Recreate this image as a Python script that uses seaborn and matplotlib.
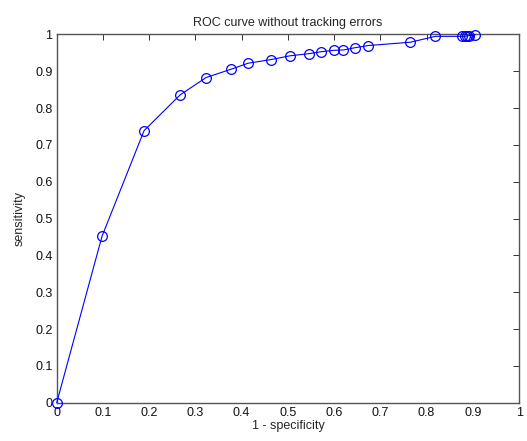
import matplotlib
matplotlib.use("Agg")
import matplotlib.pyplot as plt
import seaborn as sns
import pandas as pd
import numpy as np

sns.set_style("white")
plt.rcParams["font.family"] = ["Liberation Sans", "DejaVu Sans"]

# ROC points
fpr = [0.0, 0.098, 0.189, 0.267, 0.323, 0.378, 0.414, 0.464, 0.504,
       0.546, 0.571, 0.599, 0.620, 0.645, 0.674, 0.765, 0.819,
       0.877, 0.882, 0.887, 0.892, 0.905]
tpr = [0.0, 0.452, 0.739, 0.836, 0.883, 0.906, 0.922, 0.932, 0.942,
       0.948, 0.953, 0.957, 0.958, 0.964, 0.970, 0.979, 0.995,
       0.995, 0.995, 0.996, 0.997, 0.999]
ticks = np.round(np.arange(0, 1.01, 0.1), 1)
tick_labels = ["0", "0.1", "0.2", "0.3", "0.4", "0.5", "0.6", "0.7", "0.8", "0.9", "1"]

df = pd.DataFrame({"fpr": fpr, "tpr": tpr})

fig = plt.figure(figsize=(5.27, 4.41), dpi=100)
ax = fig.add_axes([0.1076, 0.0868, 0.8774, 0.835])
sns.lineplot(data=df, x="fpr", y="tpr", sort=False, estimator=None, ax=ax,
             color="#0000ff", linewidth=0.8, marker="o", markersize=7,
             markerfacecolor="none", markeredgecolor="#0000ff", markeredgewidth=0.9,
             clip_on=False, zorder=5)

ax.set_xlim(0, 1)
ax.set_ylim(0, 1)
ax.set_xticks(ticks)
ax.set_xticklabels(tick_labels)
ax.set_yticks(ticks)
ax.set_yticklabels(tick_labels)
ax.tick_params(direction="in", length=4, width=0.7, top=True, right=True,
               labelsize=9, colors="#333333", labelcolor="#111111", pad=3)
for spine in ax.spines.values():
    spine.set_color("#555555")
    spine.set_linewidth(1.0)
ax.set_xlabel("1 - specificity", fontsize=9, labelpad=1)
ax.set_ylabel("sensitivity", fontsize=9, labelpad=7)
ax.set_title("ROC curve without tracking errors", fontsize=9, pad=6)
ax.grid(False)

fig.savefig("out.png", dpi=100, facecolor="white")
